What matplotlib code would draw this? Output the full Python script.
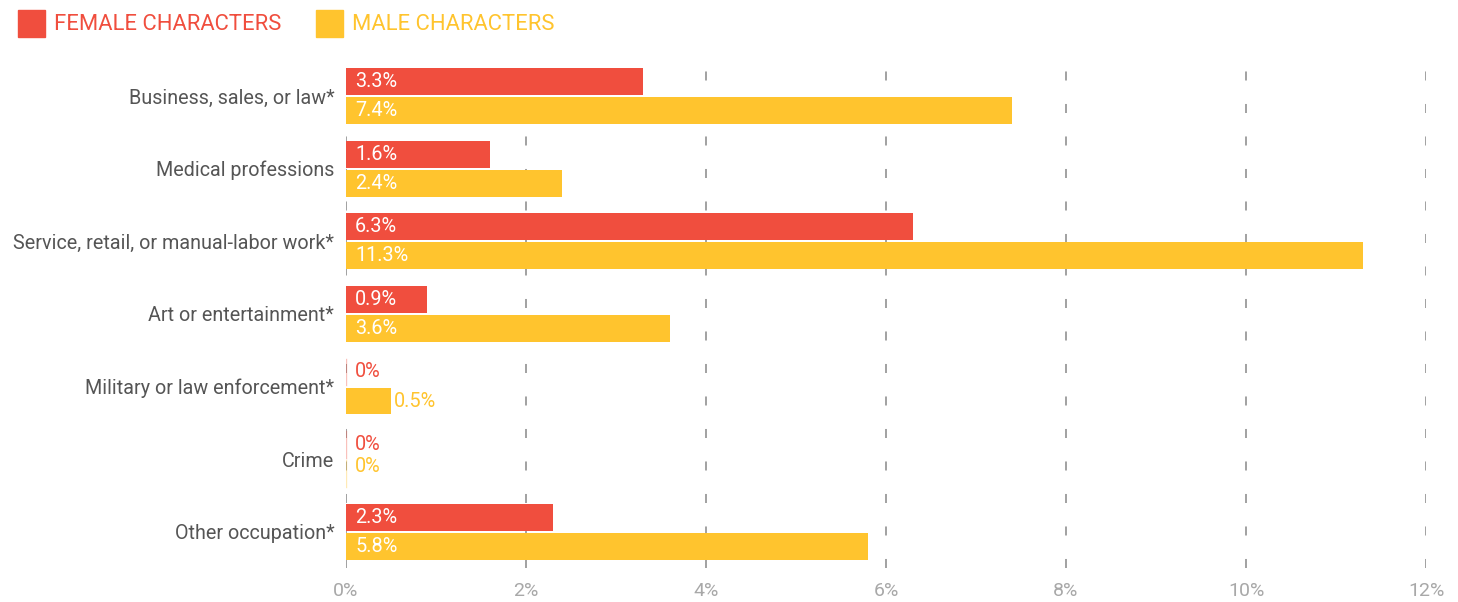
import matplotlib.pyplot as plt
from matplotlib.patches import Rectangle
from matplotlib.ticker import FuncFormatter

plt.rcParams['font.family'] = ['Roboto', 'DejaVu Sans']

# Occupation share by character gender (%)
categories = ['Business, sales, or law*', 'Medical professions',
              'Service, retail, or manual-labor work*', 'Art or entertainment*',
              'Military or law enforcement*', 'Crime', 'Other occupation*']
female = [3.3, 1.6, 6.3, 0.9, 0.0, 0.0, 2.3]
male = [7.4, 2.4, 11.3, 3.6, 0.5, 0.0, 5.8]
x_ticks = [0, 2, 4, 6, 8, 10, 12]

red = '#F04E3E'
yellow = '#FFC42E'
W, H = 1458, 602

fig = plt.figure(figsize=(W / 100, H / 100), dpi=100)
ax = fig.add_axes([346 / W, 1 - 568 / H, (1426 - 346) / W, (568 - 62) / H])

bar_h = 0.371
offset = 0.2
ys = list(range(len(categories)))

ax.barh([y - offset for y in ys], female, height=bar_h, color=red, zorder=3)
ax.barh([y + offset for y in ys], male, height=bar_h, color=yellow, zorder=3)

# value labels: white inside the bar, coloured next to short bars
dx = 9 / 90  # ~9 px in data units
fs_val = 14.3
for vals, sign, col in [(female, -1, red), (male, 1, yellow)]:
    for y, v in zip(ys, vals):
        yy = y + sign * offset
        if v >= 0.8:
            ax.text(dx, yy, f'{v:g}%', color='white', fontsize=fs_val,
                    va='center', ha='left', zorder=4)
        elif v > 0:
            ax.text(v + 3 / 90, yy, f'{v:g}%', color=col, fontsize=fs_val,
                    va='center', ha='left', zorder=4)
        else:
            # empty bar: keep a hairline, squeeze the male label up a bit
            ty = yy if sign < 0 else y + 0.1
            ax.text(dx, ty, '0%', color=col, fontsize=fs_val,
                    va='center', ha='left', zorder=4)
            ax.plot([0, 0], [yy - bar_h / 2, yy + bar_h / 2], color=col,
                    lw=1, alpha=0.35, zorder=3)

ax.set_xlim(0, 12)
ax.set_ylim(6.5, -0.47)
ax.set_xticks(x_ticks)
ax.xaxis.set_major_formatter(FuncFormatter(lambda v, p: f'{v:g}%'))
ax.set_yticks(ys)
ax.set_yticklabels(categories)

ax.grid(axis='x', color='#9a9a9a', linestyle=(0, (5, 13)), linewidth=1.3, zorder=1)
ax.grid(axis='y', visible=False)
for s in ax.spines.values():
    s.set_visible(False)
ax.tick_params(axis='x', length=0, pad=10, labelsize=14, labelcolor='#a8a8a8')
ax.tick_params(axis='y', length=0, pad=8.5, labelsize=14.2, labelcolor='#555555')

# legend
for x0, col, label in [(18, red, 'FEMALE CHARACTERS'), (316, yellow, 'MALE CHARACTERS')]:
    fig.add_artist(Rectangle((x0 / W, 1 - 37 / H), 27 / W, 27 / H,
                             transform=fig.transFigure, color=col))
    fig.text((x0 + 36) / W, 1 - 24.5 / H, label, color=col, fontsize=15.8,
             va='center', ha='left')

fig.savefig('out.png', dpi=100)
